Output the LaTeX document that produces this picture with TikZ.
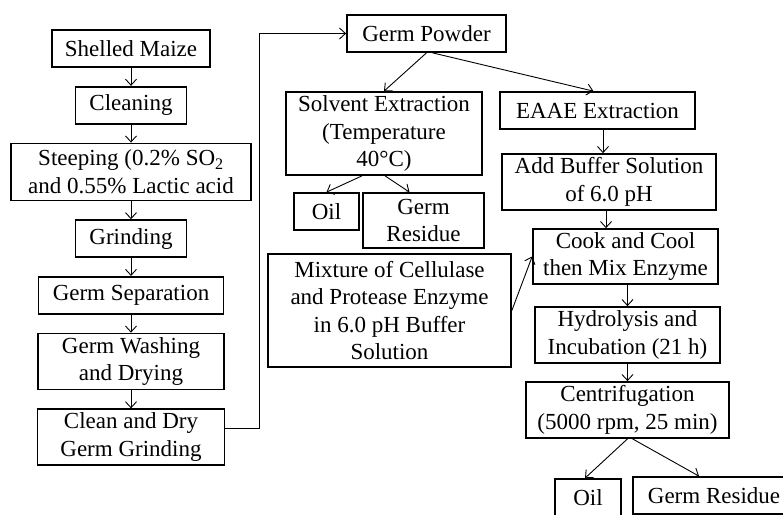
\documentclass[tikz,border=0pt]{standalone}
\usepackage{fontspec}
\setmainfont{Liberation Serif}
\usetikzlibrary{arrows.meta, positioning}
\tikzset{
  flowbox/.style={draw, line width=1.7pt, align=center, inner sep=1pt},
  flowline/.style={->, line width=0.9pt}
}

\begin{document}
\begin{tikzpicture}[x=1pt, y=-1pt, node distance=18pt, >={Straight Barb[length=6pt,width=11pt]}, font=\fontsize{23}{27.6}\selectfont]
  \useasboundingbox (0,0) rectangle (783,514);
  \clip (0,0) rectangle (783,514);
  \node[flowbox, minimum width=158pt, minimum height=37pt] (maize) at (131,48.5) {Shelled Maize};
  \node[flowbox, minimum width=111pt, minimum height=37pt, below=of maize] (clean) {Cleaning};
  \node[flowbox, minimum width=240pt, minimum height=57pt, below=of clean] (steep) {Steeping (0.2\% SO\textsubscript{2}\\and 0.55\% Lactic acid};
  \node[flowbox, minimum width=111pt, minimum height=37pt, below=of steep] (grind) {Grinding};
  \node[flowbox, minimum width=185pt, minimum height=37pt, below=of grind] (sep) {Germ Separation};
  \node[flowbox, minimum width=186pt, minimum height=56pt, below=of sep] (wash) {Germ Washing\\and Drying};
  \node[flowbox, minimum width=187pt, minimum height=56pt, below=of wash] (dry) {Clean and Dry\\Germ Grinding};

  \node[flowbox, minimum width=159pt, minimum height=37pt] (powder) at (426.5,33.5) {Germ Powder};
  \node[flowbox, minimum width=196pt, minimum height=83pt] (solvent) at (384,133.5) {Solvent Extraction\\(Temperature\\40°C)};
  \node[flowbox, minimum width=65pt, minimum height=37pt] (oila) at (326.5,211.5) {Oil};
  \node[flowbox, minimum width=121pt, minimum height=55pt] (resa) at (423.5,220.5) {Germ\\Residue};
  \node[flowbox, minimum width=243pt, minimum height=113pt] (mix) at (389.5,310.5) {Mixture of Cellulase\\and Protease Enzyme\\in 6.0 pH Buffer\\Solution};

  \node[flowbox, minimum width=195pt, minimum height=37pt] (eaae) at (597.5,110.5) {EAAE Extraction};
  \node[flowbox, minimum width=214pt, minimum height=56pt] (buffer) at (609,182) {Add Buffer Solution\\of 6.0 pH};
  \node[flowbox, minimum width=185pt, minimum height=55pt] (cook) at (625.5,256.5) {Cook and Cool\\then Mix Enzyme};
  \node[flowbox, minimum width=185pt, minimum height=56pt] (hydro) at (627.5,335) {Hydrolysis and\\Incubation (21 h)};
  \node[flowbox, minimum width=203pt, minimum height=56pt] (centri) at (627.5,410) {Centrifugation\\(5000 rpm, 25 min)};
  \node[flowbox, minimum width=66pt, minimum height=37pt] (oilb) at (588,497.5) {Oil};
  \node[flowbox, minimum width=162pt, minimum height=37pt] (resb) at (714,495.5) {Germ Residue};

  \draw[flowline] (maize) -- (clean);
  \draw[flowline] (clean) -- (steep);
  \draw[flowline] (steep) -- (grind);
  \draw[flowline] (grind) -- (sep);
  \draw[flowline] (sep) -- (wash);
  \draw[flowline] (wash) -- (dry);
  \draw[flowline] ([yshift=9pt]dry.east) -- ++(34,0) |- (powder.west);
  \draw[flowline] (powder.south) -- (solvent.north);
  \draw[flowline] ([xshift=6pt]powder.south) -- ([xshift=-4pt]eaae.north);
  \draw[flowline] ([xshift=-22pt]solvent.south) -- (oila.north);
  \draw[flowline] ([xshift=1pt]solvent.south) -- ([xshift=-14pt]resa.north);
  \draw[flowline] ([xshift=5.5pt]eaae.south) -- ([xshift=-6pt]buffer.north);
  \draw[flowline] ([xshift=-3pt]buffer.south) -- ([xshift=-19.5pt]cook.north);
  \draw[flowline] (mix.east) -- (cook.west);
  \draw[flowline] ([xshift=2pt]cook.south) -- (hydro.north);
  \draw[flowline] (hydro) -- (centri);
  \draw[flowline] (centri.south) -- ([xshift=-3pt]oilb.north);
  \draw[flowline] ([xshift=5pt]centri.south) -- ([xshift=-15pt]resb.north);
\end{tikzpicture}
\end{document}
